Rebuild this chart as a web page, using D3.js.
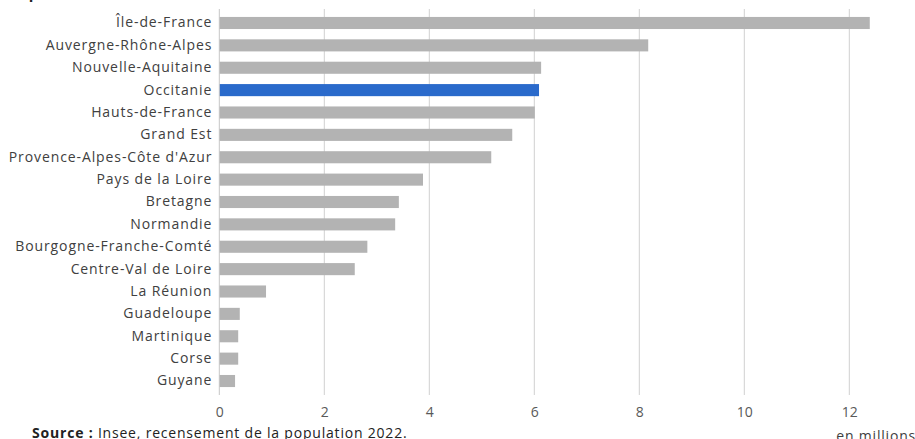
<!DOCTYPE html>
<html><head><meta charset="utf-8">
<script src="https://cdn.jsdelivr.net/npm/d3@7"></script>
<style>
html,body{margin:0;padding:0;background:#fff;overflow:hidden;}
text{font-family:"Open Sans",sans-serif;}
</style></head>
<body><svg id="c" width="915" height="439"></svg>
<script>
const regions = ["Île-de-France","Auvergne-Rhône-Alpes","Nouvelle-Aquitaine","Occitanie","Hauts-de-France","Grand Est","Provence-Alpes-Côte d'Azur","Pays de la Loire","Bretagne","Normandie","Bourgogne-Franche-Comté","Centre-Val de Loire","La Réunion","Guadeloupe","Martinique","Corse","Guyane"];
const population = [12.39,8.17,6.13,6.09,6.01,5.58,5.18,3.88,3.42,3.35,2.82,2.58,0.89,0.39,0.36,0.36,0.30];
const highlight = "Occitanie";
const xTicks = [0,2,4,6,8,10,12];

const svg = d3.select("#c");
const x = d3.scaleLinear().domain([0,12]).range([219.3,849.3]);
const y = d3.scaleBand().domain(regions).range([11.8,392.2]).paddingInner(0.46).paddingOuter(0.23);

// gridlines
svg.append("g").selectAll("line").data(xTicks.slice(1)).join("line")
  .attr("x1",d=>x(d)).attr("x2",d=>x(d)).attr("y1",9).attr("y2",395)
  .attr("stroke","#d0d0d0").attr("stroke-width",1);

// bars
svg.append("g").selectAll("rect").data(regions).join("rect")
  .attr("x",x(0)).attr("y",r=>y(r))
  .attr("width",(r,i)=>x(population[i])-x(0))
  .attr("height",y.bandwidth())
  .attr("fill",r=>r===highlight?"#2a6acb":"#b3b3b3");

// axis line at 0
svg.append("line").attr("x1",x(0)).attr("x2",x(0)).attr("y1",9).attr("y2",395)
  .attr("stroke","#c6c6c6").attr("stroke-width",1);

// category labels
const yAxis = d3.axisLeft(y).tickSize(0).tickPadding(7);
const gy = svg.append("g").attr("transform",`translate(${x(0)},0)`).call(yAxis);
gy.select(".domain").remove();
gy.selectAll("text").attr("font-size",14).attr("letter-spacing","0.9px").attr("fill","#404040").attr("font-family","'Open Sans',sans-serif");

// x tick labels
const xAxis = d3.axisBottom(x).tickValues(xTicks).tickSize(0).tickPadding(0).tickFormat(d3.format("d"));
const gx = svg.append("g").attr("transform","translate(0,407)").call(xAxis);
gx.select(".domain").remove();
gx.selectAll("text").attr("font-size",14).attr("fill","#595959").attr("font-family","'Open Sans',sans-serif");

// clipped title
svg.append("text").attr("x",10).attr("y",-1).attr("font-size",15).attr("font-weight","bold").attr("fill","#222").text("Population");

// source
const src = svg.append("text").attr("x",32).attr("y",438).attr("font-size",14).attr("letter-spacing","0.8px").attr("fill","#222");
src.append("tspan").attr("font-weight","bold").text("Source : ");
src.append("tspan").text("Insee, recensement de la population 2022.");

svg.append("text").attr("x",916).attr("y",441).attr("text-anchor","end").attr("font-size",14).attr("letter-spacing","0.8px").attr("fill","#404040").text("en millions");
</script></body></html>
